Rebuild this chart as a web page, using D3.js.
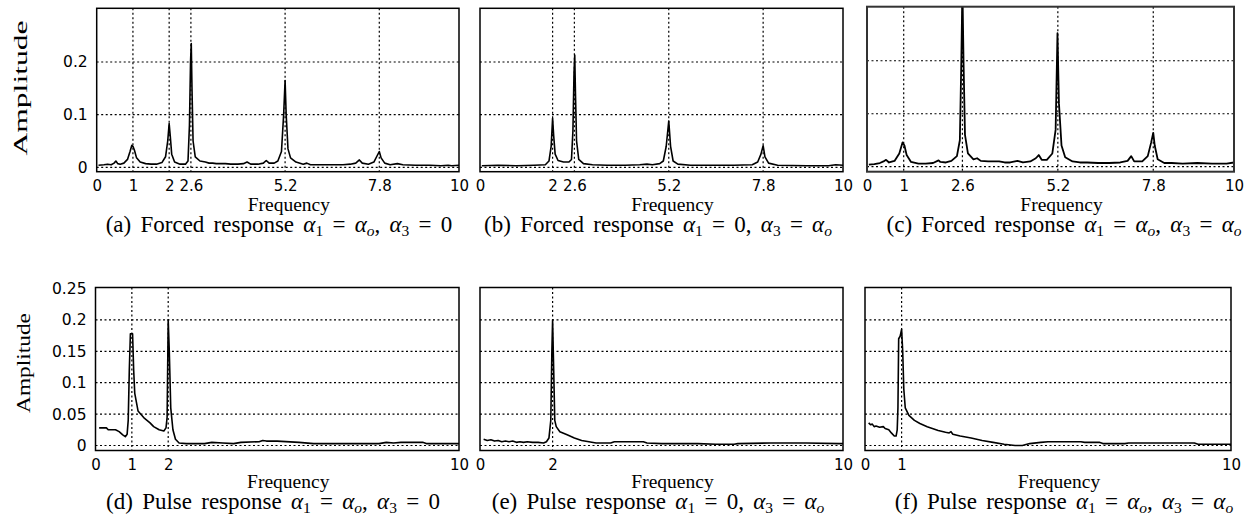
<html>
<head>
<script src="https://d3js.org/d3.v7.min.js"></script>
<style>
  body { margin: 0; background: #fff; }
  .tick text { font-family: "DejaVu Sans", sans-serif; fill: #000; }
  .serif { font-family: "Liberation Serif", "DejaVu Serif", serif; fill: #000; }
</style>
</head>
<body>
<script type="text/javascript">
    //////////////// data [frequency, amplitude] ////////////////
    var forcedA = [[0.05,0.004],[0.2,0.005],[0.3,0.006],[0.4,0.005],[0.48,0.008],[0.53,0.012],[0.58,0.007],[0.65,0.006],
        [0.75,0.008],[0.85,0.015],[0.92,0.03],[0.97,0.042],[1.0,0.04],[1.04,0.033],[1.1,0.018],[1.2,0.01],[1.35,0.007],
        [1.5,0.006],[1.65,0.006],[1.8,0.009],[1.9,0.02],[1.96,0.05],[2.0,0.083],[2.03,0.06],[2.07,0.025],[2.15,0.01],
        [2.3,0.006],[2.45,0.006],[2.52,0.012],[2.56,0.08],[2.59,0.2],[2.61,0.235],[2.63,0.15],[2.66,0.05],[2.72,0.02],
        [2.85,0.012],[3.0,0.01],[3.1,0.008],[3.2,0.008],[3.3,0.007],[3.4,0.007],[3.55,0.007],[3.7,0.006],[3.9,0.006],
        [4.05,0.007],[4.15,0.01],[4.25,0.006],[4.45,0.006],[4.6,0.008],[4.68,0.013],[4.76,0.008],[4.9,0.008],[5.0,0.012],
        [5.1,0.03],[5.16,0.1],[5.2,0.165],[5.23,0.1],[5.28,0.035],[5.35,0.018],[5.5,0.01],[5.7,0.006],[5.8,0.008],
        [5.9,0.005],[6.2,0.005],[6.5,0.005],[6.8,0.005],[7.0,0.006],[7.15,0.008],[7.25,0.014],[7.33,0.008],[7.5,0.006],
        [7.65,0.01],[7.74,0.022],[7.8,0.03],[7.85,0.018],[7.95,0.008],[8.1,0.005],[8.3,0.007],[8.45,0.005],[8.8,0.004],
        [9.2,0.004],[9.5,0.003],[9.7,0.004],[9.8,0.003],[10,0.004]];

    var forcedB = [[0.05,0.003],[0.5,0.004],[1.0,0.003],[1.5,0.004],[1.8,0.005],[1.9,0.012],[1.96,0.04],[2.0,0.093],
        [2.03,0.06],[2.07,0.025],[2.15,0.013],[2.3,0.01],[2.45,0.01],[2.52,0.015],[2.56,0.07],[2.59,0.18],[2.61,0.213],
        [2.63,0.14],[2.66,0.05],[2.72,0.015],[2.85,0.007],[3.1,0.005],[3.5,0.004],[4.0,0.004],[4.4,0.005],[4.6,0.006],
        [4.75,0.005],[4.95,0.007],[5.05,0.012],[5.13,0.04],[5.2,0.088],[5.25,0.04],[5.32,0.012],[5.45,0.006],[5.8,0.004],
        [6.5,0.004],[7.0,0.004],[7.5,0.005],[7.65,0.01],[7.74,0.025],[7.8,0.041],[7.85,0.02],[7.95,0.008],[8.2,0.004],
        [9.0,0.003],[9.6,0.003],[9.8,0.005],[10,0.004]];

    var forcedC = [[0.05,0.004],[0.2,0.005],[0.35,0.007],[0.45,0.01],[0.52,0.013],[0.6,0.008],[0.75,0.011],[0.88,0.025],
        [0.97,0.046],[1.02,0.04],[1.08,0.022],[1.2,0.009],[1.4,0.006],[1.6,0.006],[1.8,0.007],[1.95,0.012],[2.0,0.009],
        [2.15,0.008],[2.3,0.011],[2.45,0.02],[2.53,0.05],[2.57,0.2],[2.6,0.34],[2.63,0.2],[2.67,0.06],[2.75,0.025],
        [2.9,0.014],[3.0,0.016],[3.1,0.011],[3.3,0.01],[3.6,0.01],[3.75,0.008],[3.9,0.008],[4.1,0.011],[4.25,0.008],
        [4.45,0.01],[4.6,0.016],[4.68,0.022],[4.76,0.013],[4.9,0.013],[5.05,0.025],[5.14,0.07],[5.19,0.252],[5.23,0.12],
        [5.3,0.04],[5.4,0.018],[5.6,0.01],[5.8,0.008],[6.0,0.008],[6.3,0.007],[6.6,0.007],[6.9,0.008],[7.1,0.011],
        [7.2,0.02],[7.28,0.01],[7.5,0.01],[7.65,0.02],[7.74,0.045],[7.8,0.064],[7.84,0.04],[7.92,0.014],[8.1,0.007],
        [8.3,0.007],[8.6,0.006],[9.0,0.007],[9.4,0.006],[9.8,0.006],[10,0.008]];

    var pulseD = [[0.1,0.028],[0.3,0.028],[0.35,0.025],[0.55,0.025],[0.65,0.022],[0.75,0.017],[0.82,0.014],[0.87,0.018],
        [0.9,0.04],[0.93,0.12],[0.96,0.178],[1.02,0.178],[1.05,0.12],[1.08,0.083],[1.17,0.055],[1.35,0.043],[1.5,0.036],
        [1.6,0.03],[1.75,0.025],[1.88,0.023],[1.94,0.028],[1.97,0.045],[2.0,0.2],[2.03,0.15],[2.07,0.06],
        [2.13,0.025],[2.2,0.01],[2.3,0.004],[2.5,0.003],[3.0,0.003],[3.2,0.005],[3.5,0.004],[3.8,0.003],[4.0,0.005],
        [4.5,0.006],[4.6,0.008],[4.7,0.007],[5.0,0.007],[5.6,0.005],[6.0,0.003],[7.0,0.003],[7.8,0.003],[8.0,0.005],
        [8.2,0.004],[8.4,0.005],[9.0,0.005],[9.1,0.003],[10,0.003]];

    var pulseE = [[0.1,0.01],[0.2,0.008],[0.3,0.009],[0.4,0.007],[0.5,0.008],[0.6,0.006],[0.7,0.007],[0.8,0.006],
        [0.9,0.007],[1.0,0.005],[1.1,0.006],[1.2,0.005],[1.3,0.006],[1.45,0.005],[1.6,0.005],[1.75,0.004],[1.83,0.006],
        [1.9,0.012],[1.95,0.04],[1.98,0.15],[2.0,0.2],[2.03,0.12],[2.06,0.04],[2.1,0.03],[2.2,0.022],[2.4,0.017],
        [2.6,0.012],[2.8,0.008],[3.0,0.006],[3.2,0.004],[3.6,0.004],[3.7,0.006],[4.5,0.006],[4.6,0.004],[5.0,0.003],
        [6.0,0.003],[6.5,0.002],[7.0,0.002],[7.1,0.003],[8.0,0.004],[9.0,0.004],[9.9,0.003],[10,0.003]];

    var pulseF = [[0.1,0.036],[0.15,0.033],[0.2,0.034],[0.25,0.03],[0.3,0.031],[0.4,0.029],[0.5,0.03],[0.55,0.027],
        [0.65,0.025],[0.72,0.02],[0.8,0.015],[0.85,0.015],[0.88,0.025],[0.9,0.06],[0.92,0.17],[0.96,0.174],[1.0,0.185],
        [1.03,0.15],[1.06,0.09],[1.1,0.06],[1.2,0.048],[1.35,0.04],[1.5,0.035],[1.7,0.03],[2.0,0.024],[2.2,0.021],
        [2.3,0.02],[2.35,0.022],[2.4,0.018],[2.6,0.015],[2.9,0.012],[3.2,0.008],[3.5,0.005],[3.8,0.002],[4.1,0.0],
        [4.3,0.0],[4.5,0.003],[4.8,0.005],[5.0,0.006],[5.3,0.006],[5.9,0.006],[6.0,0.005],[6.4,0.005],[6.5,0.003],
        [7.1,0.003],[7.2,0.004],[8.0,0.004],[9.0,0.004],[9.1,0.002],[10,0.002]];

    // tick values
    var xTicksA = [0, 1, 2, 2.6, 5.2, 7.8, 10];
    var xTicksB = [0, 2, 2.6, 5.2, 7.8, 10];
    var xTicksC = [0, 1, 2.6, 5.2, 7.8, 10];
    var xTicksD = [0, 1, 2, 10];
    var xTicksE = [0, 2, 10];
    var xTicksF = [0, 1, 10];
    var yTicksForced = [0, 0.1, 0.2];
    var yTicksPulse = [0, 0.05, 0.1, 0.15, 0.2, 0.25];

    var captions = ["a", "b", "c", "d", "e", "f"];
    var responseKind = ["Forced", "Forced", "Forced", "Pulse", "Pulse", "Pulse"];
    var alpha1 = ["o", "0", "o", "o", "0", "o"];
    var alpha3 = ["0", "o", "o", "0", "o", "o"];

    /////////////////settings for layout ////
    var svgWidth = 1251;
    var svgHeight = 519;
    var captionX = [279, 658, 1064, 273, 658, 1064];
    var subShift = 4;

    var panels = [
        {data: forcedA, xt: xTicksA, yt: yTicksForced, box: [96.7, 8.3, 459, 171.7], ydom: [-0.0083, 0.302], ylabels: true},
        {data: forcedB, xt: xTicksB, yt: yTicksForced, box: [480, 8.3, 843, 171.7], ydom: [-0.0083, 0.302]},
        {data: forcedC, xt: xTicksC, yt: yTicksForced, box: [867, 6.7, 1234, 171.7], ydom: [-0.0094, 0.302], blurry: true},
        {data: pulseD, xt: xTicksD, yt: yTicksPulse, box: [95.5, 287.5, 459, 450.5], ydom: [-0.008, 0.2516], ylabels: true},
        {data: pulseE, xt: xTicksE, yt: yTicksPulse, box: [480, 287.5, 843, 450.5], ydom: [-0.008, 0.2516]},
        {data: pulseF, xt: xTicksF, yt: yTicksPulse, box: [865, 287.5, 1231, 450.5], ydom: [-0.008, 0.2516]}
    ];

    var svg = d3.select("body").append("svg")
        .attr("width", svgWidth)
        .attr("height", svgHeight);

    panels.forEach(function (p, i) {
        var x0 = p.box[0], y0 = p.box[1], x1 = p.box[2], y1 = p.box[3];
        var w = x1 - x0, h = y1 - y0;
        var top = i < 3;

        var x = d3.scaleLinear().domain([0, 10]).range([0, w]);
        var y = d3.scaleLinear().domain(p.ydom).range([h, 0]);

        var g = svg.append("g").attr("transform", "translate(" + x0 + "," + y0 + ")");

        g.append("clipPath").attr("id", "clip" + i)
            .append("rect").attr("width", w).attr("height", h);

        // dotted grid
        var grid = g.append("g").attr("class", "grid")
            .attr("stroke", "#000").attr("stroke-width", 1.2).attr("stroke-dasharray", "2,2.5");
        grid.selectAll(".vg").data(p.xt.filter(function (d) { return d > 0 && d < 10; }))
            .enter().append("line")
            .attr("x1", d => x(d)).attr("x2", d => x(d))
            .attr("y1", 0).attr("y2", h);
        grid.selectAll(".hg").data(p.yt.filter(function (d) { return y(d) > 2; }))
            .enter().append("line")
            .attr("x1", 0).attr("x2", w)
            .attr("y1", d => y(d)).attr("y2", d => y(d));

        // spectrum
        var line = d3.line().x(d => x(d[0])).y(d => y(d[1]));
        g.append("path").datum(p.data)
            .attr("clip-path", "url(#clip" + i + ")")
            .attr("fill", "none")
            .attr("stroke", "#000")
            .attr("stroke-width", p.blurry ? 1.8 : 1.6)
            .attr("stroke-linejoin", "round")
            .attr("d", line);

        // frame
        g.append("rect").attr("width", w).attr("height", h)
            .attr("fill", "none")
            .attr("stroke", p.blurry ? "#333" : "#000")
            .attr("stroke-width", p.blurry ? 2 : 1.5);

        // x axis labels
        var xAxis = g.append("g")
            .attr("transform", "translate(0," + h + ")")
            .call(d3.axisBottom(x).tickValues(p.xt).tickSize(0).tickPadding(9)
                .tickFormat(d => String(d)));
        xAxis.select(".domain").remove();
        xAxis.selectAll("text").style("font-size", "15px");

        if (p.ylabels) {
            var yAxis = g.append("g")
                .call(d3.axisLeft(y).tickValues(p.yt).tickSize(0).tickPadding(9)
                    .tickFormat(d => String(d)));
            yAxis.select(".domain").remove();
            yAxis.selectAll("text").style("font-size", "15.5px");

            svg.append("text").attr("class", "serif")
                .attr("text-anchor", "middle")
                .style("font-size", "19px")
                .attr("transform", top ? "translate(27,88) rotate(-90)" : "translate(30,363) rotate(-90)")
                .attr("textLength", top ? 135 : 100)
                .attr("lengthAdjust", "spacingAndGlyphs")
                .text("Amplitude");
        }

        // Frequency label
        svg.append("text").attr("class", "serif")
            .attr("text-anchor", "middle")
            .attr("x", x0 + w / 2 + 11)
            .attr("y", top ? 211 : 487.5)
            .style("font-size", "19.5px")
            .text("Frequency");

        // caption
        var cap = svg.append("text").attr("class", "serif")
            .attr("text-anchor", "middle")
            .attr("x", captionX[i])
            .attr("y", top ? 231.5 : 509)
            .style("font-size", "23px")
            .style("word-spacing", "3.5px");
        var shift = 0;
        captionParts(i).forEach(function (part) {
            var target = part.sub ? subShift : 0;
            var ts = cap.append("tspan").text(part.t);
            if (target !== shift) ts.attr("dy", target - shift);
            shift = target;
            if (part.it) ts.style("font-style", "italic");
            if (part.sub) ts.style("font-size", "15.5px");
        });
    });

    // pieces of "(a) Forced response α1 = αo, α3 = 0"
    function captionParts(i) {
        var parts = [{t: "(" + captions[i] + ") " + responseKind[i] + " response "}];
        [["1", alpha1[i]], ["3", alpha3[i]]].forEach(function (a, j) {
            if (j > 0) parts.push({t: ", "});
            parts.push({t: "α", it: true}, {t: a[0], sub: true}, {t: " = "});
            if (a[1] === "0") parts.push({t: "0"});
            else parts.push({t: "α", it: true}, {t: "o", it: true, sub: true});
        });
        return parts;
    }
</script>
</body>
</html>
